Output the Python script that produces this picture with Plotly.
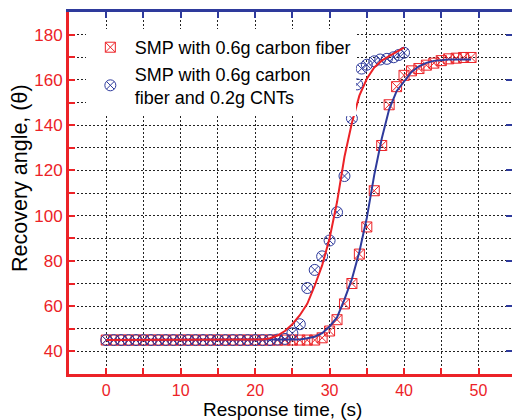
import plotly.graph_objects as go

# ---- data ----
cf_time = list(range(0, 50))
cf_angle = [45]*28 + [45, 46, 49, 54, 61, 70, 83, 95, 111, 131, 149, 157,
                      162, 164, 165, 166.5, 167.4, 168.5, 169.3, 169.6, 169.9, 169.9]

cnt_time = list(range(0, 34)) + [33.7, 34.3, 35.0, 36.0, 36.8, 37.7, 38.6, 39.3, 40.0]
cnt_angle = [45]*23 + [45.2, 45.5, 48, 52, 68, 76, 82, 89, 101.5, 117.5, 143,
                       158, 165, 166.7, 168.2, 169, 169.3, 170, 171, 172]

fit_cf_time = list(range(0, 50))
fit_cf_angle = [45]*26 + [45.3, 45.8, 46.5, 48, 51, 55, 63, 72, 84, 99, 118, 134, 147, 155,
                          159.5, 163.5, 166, 167.5, 168.4, 168.8, 169, 169, 169, 169]

fit_cnt_time = list(range(0, 41))
fit_cnt_angle = [45]*21 + [45.3, 45.8, 47, 49, 52, 56, 61, 69, 78, 90, 106, 126, 141, 153,
                           160.5, 165.5, 168.5, 170.5, 172.5, 174.3]

x_title = "Response time, (s)"
y_title = "Recovery angle, (θ)"

RED = "#ec2227"
BLUE = "#2e3a9c"
FONT = "Liberation Sans, Arial, sans-serif"

fig = go.Figure()
fig.add_trace(go.Scatter(x=cf_time, y=cf_angle, mode="markers",
                         name="SMP with 0.6g carbon fiber",
                         marker=dict(symbol="square-x-open", size=10, color=RED, line=dict(width=1))))
fig.add_trace(go.Scatter(x=cnt_time, y=cnt_angle, mode="markers",
                         name="SMP with 0.6g carbon<br>fiber and 0.2g CNTs",
                         marker=dict(symbol="circle-x-open", size=11, color=BLUE, line=dict(width=1))))
fig.add_trace(go.Scatter(x=fit_cf_time, y=fit_cf_angle, mode="lines", showlegend=False,
                         line=dict(color=BLUE, width=2), xaxis="x2", yaxis="y2"))
fig.add_trace(go.Scatter(x=fit_cnt_time, y=fit_cnt_angle, mode="lines", showlegend=False,
                         line=dict(color=RED, width=2), xaxis="x2", yaxis="y2"))

XR = [-5, 54.5]
YR = [30, 190]
GRID = dict(showgrid=True, gridcolor="#222222", gridwidth=1, griddash="1.5px,2.5px")

fig.update_layout(
    width=512, height=420,
    margin=dict(l=69, r=0, t=12, b=46),
    paper_bgcolor="white", plot_bgcolor="white",
    font=dict(family=FONT, color="black"),
    showlegend=True,
    legend=dict(x=0.038, y=0.953, xanchor="left", yanchor="top",
                bgcolor="white", borderwidth=0, itemwidth=39,
                font=dict(size=18, color="black", family=FONT),
                tracegroupgap=0),
    xaxis=dict(range=XR, tick0=0, dtick=10, ticks="inside", ticklen=6, tickwidth=2,
               tickcolor=RED, showline=True, linecolor=RED, linewidth=3,
               tickfont=dict(size=16, color=RED), zeroline=False, ticklabelstandoff=0,
               minor=dict(dtick=5, ticks="inside", ticklen=6, tickwidth=2, tickcolor=RED, **GRID),
               **GRID),
    yaxis=dict(range=YR, tick0=0, dtick=20, ticks="inside", ticklen=6, tickwidth=2,
               tickcolor=RED, showline=True, linecolor=RED, linewidth=3,
               tickfont=dict(size=17, color=RED), zeroline=False,
               minor=dict(dtick=10, ticks="inside", ticklen=6, tickwidth=2, tickcolor=RED, **GRID),
               **GRID),
    xaxis2=dict(range=XR, overlaying="x", anchor="y2", side="top", tick0=0, dtick=5,
                ticks="inside", ticklen=6, tickwidth=2, tickcolor=BLUE,
                showline=True, linecolor=BLUE, linewidth=3, showticklabels=False,
                showgrid=False, zeroline=False),
    yaxis2=dict(range=YR, overlaying="y", anchor="x2", side="right", tick0=0, dtick=20,
                ticks="inside", ticklen=6, tickwidth=2, tickcolor=BLUE,
                showline=False, showticklabels=False, showgrid=False, zeroline=False),
    annotations=[
        dict(text=x_title, xref="paper", yref="paper", x=0.482, y=-0.0981,
             xanchor="center", yanchor="middle", showarrow=False,
             font=dict(size=19, color="black", family=FONT)),
        dict(text=y_title, xref="paper", yref="paper", x=-0.1106, y=0.5414,
             xanchor="center", yanchor="middle", showarrow=False, textangle=-90,
             font=dict(size=21.5, color="black", family=FONT)),
    ],
)

fig.write_html("out.html")
